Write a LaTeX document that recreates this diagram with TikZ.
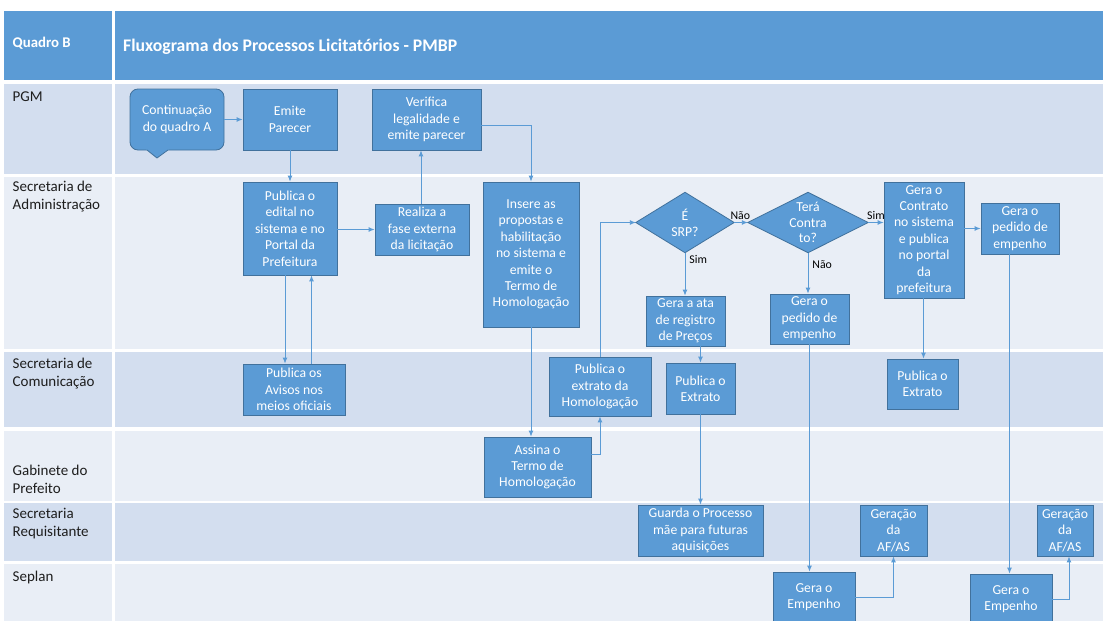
\documentclass[tikz,border=0pt]{standalone}
\usepackage{fontspec}
\setmainfont{Carlito}
\usetikzlibrary{arrows.meta,calc}
\definecolor{hdr}{HTML}{5B9BD5}
\definecolor{boxfill}{HTML}{5B9BD5}
\definecolor{boxline}{HTML}{41719C}
\definecolor{laneA}{HTML}{D3DEEF}
\definecolor{laneB}{HTML}{E9EEF6}
\definecolor{conn}{HTML}{5B9BD5}
\definecolor{lanetext}{HTML}{1E1E1E}
\pgfdeclarelayer{lanes}
\pgfdeclarelayer{shapes}
\pgfsetlayers{lanes,shapes,main}
\begin{document}
\begin{tikzpicture}[x=1pt,y=-1pt,
  box/.style={draw=boxline, fill=boxfill, line width=0.8pt, inner sep=0pt,
    text=white, align=center, font=\fontsize{13.7}{16.4}\selectfont},
  dia/.style={inner sep=0pt, text=white, align=center,
    font=\fontsize{13.7}{15.8}\selectfont},
  diashape/.style={draw=boxline, fill=boxfill, line width=0.8pt},
  arr/.style={draw=conn, line width=0.9pt, -{Latex[length=6pt,width=5pt]}},
  lanelabel/.style={anchor=west, align=left, inner sep=0pt, text=lanetext,
    font=\fontsize{15}{18}\selectfont},
  lbl/.style={inner sep=1pt, text=black, font=\fontsize{11.8}{13}\selectfont},
]
\useasboundingbox (0,0) rectangle (1103,621);
\clip (0,0) rectangle (1103,621);

\begin{pgfonlayer}{lanes}
% header
\fill[hdr] (4,11) rectangle (112,80);
\fill[hdr] (115,11) rectangle (1103,80);
% lanes
\foreach \ya/\yb/\c in {84/174/laneA, 177/349/laneB, 352/427/laneA, 431/501/laneB, 503/561/laneA, 564/625/laneB}{
  \fill[\c] (4,\ya) rectangle (112,\yb);
  \fill[\c] (115,\ya) rectangle (1103,\yb);
}
\end{pgfonlayer}

\node[anchor=west, inner sep=0pt, text=white, font=\fontsize{14.8}{17}\selectfont\bfseries] (quadro) at (12.5,43) {Quadro B};
\node[anchor=west, inner sep=0pt, text=white, font=\fontsize{17.7}{21}\selectfont\bfseries] (titulo) at (123,47) {Fluxograma dos Processos Licitatórios - PMBP};

\node[lanelabel] (lpgm) at (12.5,97) {PGM};
\node[lanelabel] (ladm) at (12.5,197) {Secretaria de\\Administração};
\node[lanelabel] (lcom) at (12.5,374) {Secretaria de\\Comunicação};
\node[lanelabel] (lgab) at (12.5,479) {Gabinete do\\Prefeito};
\node[lanelabel] (lreq) at (12.5,524) {Secretaria\\Requisitante};
\node[lanelabel] (lsep) at (12.5,577) {Seplan};

% boxes
\node[box, rounded corners=8pt, minimum width=94pt, minimum height=61pt] (cont) at (177,119.5) {Continuação\\do quadro A};
\fill[boxfill] (146,149) -- (157,158) -- (169,149) -- cycle;
\draw[boxline, line width=0.8pt, line join=round] (147,150) -- (157,158) -- (168,150);
\node[box, minimum width=94pt, minimum height=61pt] (emite) at (290,119.5) {Emite\\Parecer};
\node[box, minimum width=109pt, minimum height=61pt] (verif) at (426.5,119.5) {Verifica\\legalidade e\\emite parecer};
\node[box, minimum width=94pt, minimum height=93pt] (pubed) at (290,228.5) {Publica o\\edital no\\sistema e no\\Portal da\\Prefeitura};
\node[box, minimum width=94pt, minimum height=51pt] (realiza) at (422,229.5) {Realiza a\\fase externa\\da licitação};
\node[box, minimum width=96pt, minimum height=145pt] (insere) at (531,254.5) {Insere as\\propostas e\\habilitação\\no sistema e\\emite o\\Termo de\\Homologação};
\node[box, minimum width=102pt, minimum height=51pt] (avisos) at (294,389.5) {Publica os\\Avisos nos\\meios oficiais};
\node[box, minimum width=107pt, minimum height=60pt] (assina) at (537.5,467) {Assina o\\Termo de\\Homologação};
\node[box, minimum width=102pt, minimum height=59pt] (pubhom) at (600,386.5) {Publica o\\extrato da\\Homologação};
\node[dia, minimum width=98pt, minimum height=60pt] (srp) at (685,222.5) {É\\SRP?};
\node[dia, minimum width=120pt, minimum height=60pt] (tera) at (808,222.5) {Terá\\Contra\\to?};
\node[box, minimum width=79pt, minimum height=50pt] (ata) at (685.5,321) {Gera a ata\\de registro\\de Preços};
\node[box, minimum width=79pt, minimum height=50pt] (ped1) at (809.5,319) {Gera o\\pedido de\\empenho};
\node[box, minimum width=80pt, minimum height=116pt] (contrato) at (924,240) {Gera o\\Contrato\\no sistema\\e publica\\no portal\\da\\prefeitura};
\node[box, minimum width=78pt, minimum height=51pt] (ped2) at (1020,228.5) {Gera o\\pedido de\\empenho};
\node[box, minimum width=69pt, minimum height=51pt] (pubext1) at (700.5,388.5) {Publica o\\Extrato};
\node[box, minimum width=125pt, minimum height=51pt] (guarda) at (700.5,530.5) {Guarda o Processo\\mãe para futuras\\aquisições};
\node[box, minimum width=71pt, minimum height=50pt] (pubext2) at (922.5,384) {Publica o\\Extrato};
\node[box, minimum width=82pt, minimum height=50pt] (emp1) at (814,597) {Gera o\\Empenho};
\node[box, minimum width=82pt, minimum height=50pt] (emp2) at (1011,599) {Gera o\\Empenho};
\node[box, minimum width=67pt, minimum height=51pt] (ger1) at (893.5,530.5) {Geração\\da\\AF/AS};
\node[box, minimum width=56pt, minimum height=51pt] (ger2) at (1065,530.5) {Geração\\da\\AF/AS};

\begin{pgfonlayer}{shapes}
\path[diashape] (srp.north) -- (srp.east) -- (srp.south) -- (srp.west) -- cycle;
\path[diashape] (tera.north) -- (tera.east) -- (tera.south) -- (tera.west) -- cycle;
\end{pgfonlayer}

% connectors
\draw[arr] (cont.east) -- (emite.west);
\draw[arr] (emite.south) -- (pubed.north);
\draw[arr] (pubed.east |- realiza.west) -- (realiza.west);
\draw[arr] ([xshift=-1pt]realiza.north) -- ([xshift=-1pt]realiza.north |- verif.south);
\draw[arr] ([yshift=-5.5pt]verif.east) -| (insere.north);
\draw[arr] ([xshift=-5pt]pubed.south) -- ([xshift=-5pt]pubed.south |- avisos.north);
\draw[arr] ([xshift=21.5pt]pubed.south |- avisos.north) -- ([xshift=21.5pt]pubed.south);
\draw[arr] (insere.south) -- (insere.south |- assina.north);
\draw[arr] ([yshift=13pt]assina.east) -| (pubhom.south);
\draw[arr] (pubhom.north) |- (srp.west);
\draw[arr] (srp.east) -- node[lbl, above, pos=0.45, yshift=1pt] (lnao1) {Não} (tera.west);
\draw[arr] (tera.east) -- node[lbl, above, yshift=1pt] (lsim1) {Sim} (tera.east -| contrato.west);
\draw[arr] (srp.south) -- node[lbl, right, pos=0.15, xshift=3pt] (lsim2) {Sim} (srp.south |- ata.north);
\draw[arr] (tera.south) -- node[lbl, right, pos=0.3, xshift=3pt] (lnao2) {Não} (tera.south |- ped1.north);
\draw[arr] (contrato.east |- ped2.west) -- (ped2.west);
\draw[arr] (ata.south -| pubext1.north) -- (pubext1.north);
\draw[arr] (pubext1.south) -- (guarda.north);
\draw[arr] (ped1.south) -- (ped1.south |- emp1.north);
\draw[arr] ([xshift=-0.5pt]contrato.south) -- ([xshift=-0.5pt]contrato.south |- pubext2.north);
\draw[arr] ([xshift=-1.5pt]emp2.north |- ped2.south) -- ([xshift=-1.5pt]emp2.north);
\draw[arr] (emp1.east) -| (ger1.south);
\draw[arr] (emp2.east) -| ([xshift=4pt]ger2.south);
\end{tikzpicture}
\end{document}
